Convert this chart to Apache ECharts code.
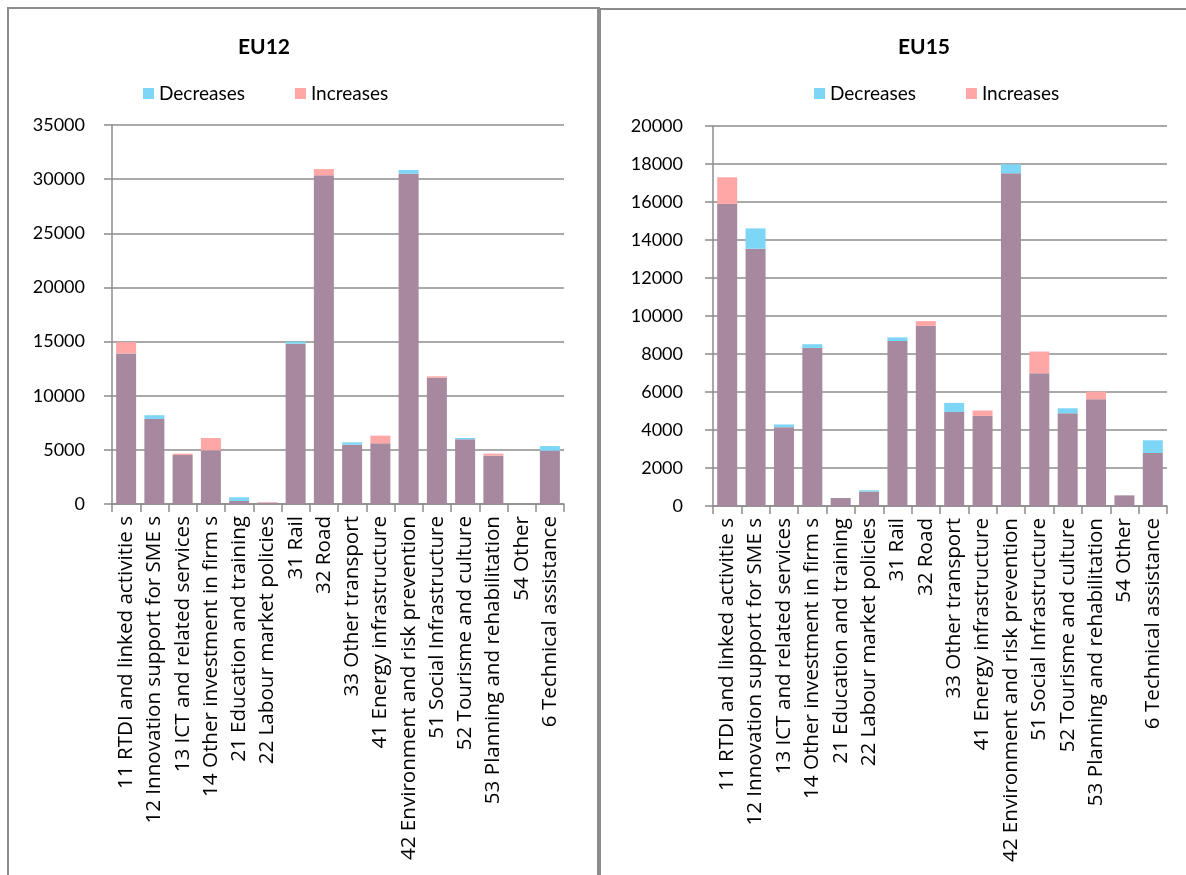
<!DOCTYPE html>
<html>
<head>
<meta charset="utf-8">
<script src="https://cdn.jsdelivr.net/npm/echarts@6/dist/echarts.min.js"></script>
<style>
html,body{margin:0;padding:0;background:#fff;}
#chart{width:1186px;height:875px;}
</style>
</head>
<body>
<div id="chart"></div>
<script>
const categories = ["11 RTDI and linked activitie s", "12 Innovation support for SME s", "13 ICT and related services", "14 Other investment in firm s", "21 Education and training", "22 Labour market policies", "31 Rail", "32 Road", "33 Other transport", "41 Energy infrastructure", "42 Environment and risk prevention", "51 Social Infrastructure", "52 Tourisme and culture", "53 Planning and rehabilitation", "54 Other", "6 Technical assistance"];

const eu12Base = [13900, 7850, 4520, 4960, 280, 130, 14800, 30350, 5480, 5600, 30500, 11660, 5970, 4460, 0, 4920];
const eu12Decreases = [0, 350, 0, 0, 340, 0, 190, 0, 215, 0, 340, 0, 125, 0, 0, 430];
const eu12Increases = [1060, 0, 130, 1130, 0, 40, 0, 580, 0, 710, 0, 130, 0, 190, 0, 0];

const eu15Base = [15900, 13540, 4150, 8320, 420, 760, 8680, 9480, 4950, 4740, 17510, 6990, 4880, 5620, 560, 2790];
const eu15Decreases = [0, 1070, 140, 195, 0, 70, 195, 0, 475, 0, 475, 0, 265, 0, 0, 670];
const eu15Increases = [1400, 0, 0, 0, 0, 0, 0, 250, 0, 285, 0, 1140, 0, 405, 0, 0];

const panelTitles = ["EU12", "EU15"];
const legendNames = ["Decreases", "Increases"];

const FONT = "Lato";
const CAT_FONT = "Open Sans";
const C_BASE = "#a6899e";
const C_DEC = "#7dd6f5";
const C_INC = "#ffa6a6";
const GRIDC = "#8c8c8c";

const chart = echarts.init(document.getElementById('chart'));

function xAxis(gi){
  return {
    type: 'category', gridIndex: gi, data: categories,
    axisLine: {lineStyle: {color: GRIDC, width: 1.5}},
    axisTick: {show: true, length: 8, lineStyle: {color: GRIDC, width: 1.5}},
    axisLabel: {rotate: 90, margin: 12, fontSize: 20.6, color: '#000', fontFamily: CAT_FONT, interval: 0}
  };
}
function yAxis(gi, max, interval, margin){
  return {
    type: 'value', gridIndex: gi, min: 0, max: max, interval: interval,
    axisLine: {show: true, lineStyle: {color: GRIDC, width: 1.5}},
    axisTick: {show: true, length: 8, lineStyle: {color: GRIDC, width: 1.5}},
    splitLine: {lineStyle: {color: GRIDC, width: 1.5}},
    axisLabel: {fontSize: 18, color: '#000', fontFamily: FONT, margin: margin, formatter: v => String(v)}
  };
}
function series(gi, base, dec, inc){
  const common = {type: 'bar', stack: 's' + gi, xAxisIndex: gi, yAxisIndex: gi, barWidth: 20};
  return [
    Object.assign({}, common, {name: 'Base' + gi, data: base, itemStyle: {color: C_BASE}}),
    Object.assign({}, common, {name: legendNames[0], data: dec, itemStyle: {color: C_DEC}}),
    Object.assign({}, common, {name: legendNames[1], data: inc, itemStyle: {color: C_INC}})
  ];
}
function legend(left){
  return {
    data: legendNames, left: left, top: 79, itemWidth: 11, itemHeight: 11, itemGap: 50,
    icon: 'rect', selectedMode: false,
    textStyle: {fontSize: 19, color: '#000', fontFamily: FONT}
  };
}

chart.setOption({
  animation: false,
  title: [
    {text: panelTitles[0], left: 259, top: 32, textAlign: 'center', textStyle: {fontSize: 21, fontWeight: 'bold', color: '#000', fontFamily: FONT}},
    {text: panelTitles[1], left: 919, top: 32, textAlign: 'center', textStyle: {fontSize: 21, fontWeight: 'bold', color: '#000', fontFamily: FONT}}
  ],
  legend: [legend(138), legend(809)],
  grid: [
    {left: 112, right: 622, top: 125, bottom: 371},
    {left: 713, right: 19, top: 126, bottom: 369}
  ],
  xAxis: [xAxis(0), xAxis(1)],
  yAxis: [yAxis(0, 35000, 5000, 27), yAxis(1, 20000, 2000, 30)],
  series: series(0, eu12Base, eu12Decreases, eu12Increases).concat(series(1, eu15Base, eu15Decreases, eu15Increases)),
  graphic: [
    {type: 'rect', shape: {x: 8, y: 8, width: 591, height: 900}, style: {fill: 'none', stroke: '#8c8c8c', lineWidth: 2}, silent: true},
    {type: 'line', shape: {x1: 599, y1: 8, x2: 599, y2: 875}, style: {stroke: '#8c8c8c', lineWidth: 4}, silent: true},
    {type: 'line', shape: {x1: 599, y1: 9, x2: 1186, y2: 9}, style: {stroke: '#8c8c8c', lineWidth: 2}, silent: true}
  ]
});
</script>
</body>
</html>
